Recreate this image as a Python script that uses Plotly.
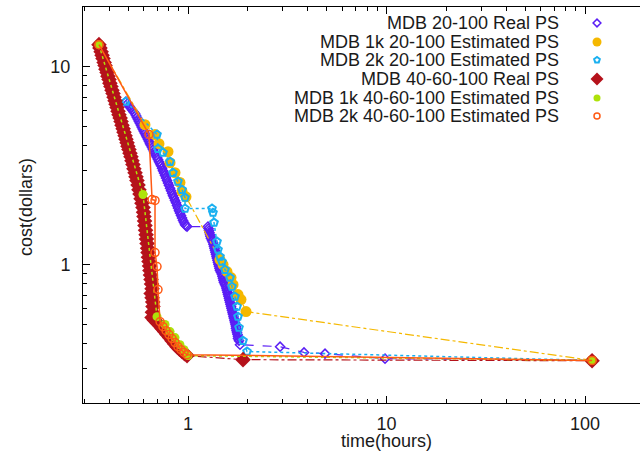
import plotly.graph_objects as go

# ---------------- data (time in hours, cost in dollars) ----------------
real_20_x = [0.487, 0.495, 0.504, 0.513, 0.522, 0.531, 0.541, 0.547, 0.553, 0.560, 0.566, 0.573, 0.580,
             0.586, 0.593, 0.600, 0.607, 0.615, 0.622, 0.629, 0.636, 0.643, 0.651, 0.659, 0.666, 0.674,
             0.682, 0.690, 0.698, 0.706, 0.714, 0.723, 0.731, 0.740, 0.748, 0.757, 0.766, 0.775, 0.784,
             0.793, 0.802, 0.812, 0.821, 0.831, 0.840, 0.850, 0.860, 0.870, 0.880, 0.890, 0.901, 0.911,
             0.922, 0.933, 0.944, 0.955, 0.966, 0.977, 0.989,
             1.261, 1.268, 1.276, 1.283, 1.291, 1.298, 1.306, 1.321, 1.336, 1.344, 1.352, 1.360, 1.368,
             1.376, 1.384, 1.392, 1.400, 1.408, 1.416, 1.424, 1.433, 1.441, 1.449, 1.466, 1.483, 1.492,
             1.501, 1.509, 1.518, 1.536, 1.554, 1.563, 1.572, 1.581, 1.590, 1.600, 1.609, 1.618, 1.628,
             1.637, 1.647, 1.656, 1.666, 1.676, 1.686, 1.695, 1.705, 1.715, 1.725, 1.735, 1.745, 1.745,
             1.755, 1.766, 1.776, 1.786, 1.786, 1.807, 1.828, 2.91, 3.84, 4.90, 9.83, 108.5]
real_20_y = [6.66, 6.50, 6.35, 6.20, 6.06, 5.92, 5.79, 5.66, 5.53, 5.40, 5.28, 5.16, 5.04,
             4.92, 4.81, 4.70, 4.59, 4.48, 4.38, 4.28, 4.18, 4.08, 3.99, 3.90, 3.81, 3.72,
             3.64, 3.55, 3.47, 3.39, 3.31, 3.23, 3.16, 3.07, 2.98, 2.90, 2.82, 2.74, 2.66,
             2.58, 2.51, 2.43, 2.36, 2.29, 2.23, 2.17, 2.11, 2.05, 1.99, 1.93, 1.87, 1.82,
             1.77, 1.72, 1.67, 1.63, 1.59, 1.57, 1.556,
             1.556, 1.52, 1.485, 1.45, 1.417, 1.385, 1.353, 1.32, 1.292, 1.262, 1.233, 1.205, 1.177,
             1.15, 1.123, 1.097, 1.072, 1.048, 1.024, 1.0, 0.977, 0.955, 0.933, 0.911, 0.890, 0.870,
             0.850, 0.830, 0.811, 0.792, 0.774, 0.756, 0.739, 0.722, 0.706, 0.690, 0.674, 0.658, 0.643,
             0.628, 0.614, 0.600, 0.586, 0.572, 0.559, 0.546, 0.534, 0.521, 0.509, 0.497, 0.486, 0.475,
             0.464, 0.453, 0.443, 0.433, 0.423, 0.413, 0.394, 0.385, 0.360, 0.355, 0.335, 0.329, 0.328]

est1k_20_x = [0.356, 0.607, 0.682, 0.714, 0.793, 0.812, 0.860, 0.911, 0.933, 0.977,
              1.449, 1.501, 1.572, 1.647, 1.686, 1.786, 1.849, 1.960, 108.5]
est1k_20_y = [12.91, 5.09, 4.54, 4.08, 3.72, 3.27, 2.91, 2.60, 2.34, 2.20,
              1.060, 1.000, 0.922, 0.860, 0.792, 0.706, 0.666, 0.579, 0.328]

est2k_20_x = [0.487, 0.698, 0.706, 0.748, 0.812, 0.840, 0.890, 0.933, 0.966, 0.966, 1.321, 1.336,
              1.352, 1.400, 1.416, 1.449, 1.483, 1.536, 1.628, 1.666, 1.725, 1.766, 1.786, 1.807,
              1.893, 1.983, 108.5]
est2k_20_y = [6.66, 4.54, 3.85, 3.68, 3.31, 2.91, 2.63, 2.39, 2.18, 1.92, 1.92, 1.83,
              1.63, 1.307, 1.191, 1.098, 1.036, 0.943, 0.860, 0.774, 0.689, 0.614, 0.546, 0.481,
              0.413, 0.364, 0.328]

real_40_x = [0.356, 0.360, 0.365, 0.369, 0.373, 0.378, 0.382, 0.386, 0.391, 0.395, 0.400, 0.404,
             0.409, 0.414, 0.419, 0.424, 0.429, 0.434, 0.439, 0.444, 0.449, 0.455, 0.460, 0.465,
             0.471, 0.476, 0.482, 0.487, 0.493, 0.498, 0.504, 0.510, 0.516, 0.522, 0.528, 0.534,
             0.541, 0.547, 0.553, 0.560, 0.566, 0.573, 0.580, 0.586, 0.593, 0.597, 0.600, 0.604,
             0.607, 0.611, 0.615, 0.618, 0.622, 0.626, 0.629, 0.632, 0.636, 0.640, 0.643, 0.647,
             0.651, 0.655, 0.659, 0.652, 0.659, 0.664, 0.666, 0.662, 0.659, 0.678, 0.698, 0.719,
             0.740, 0.762, 0.784, 0.807, 0.831, 0.855, 0.880, 0.906, 0.933, 0.960, 0.989, 1.893, 108.5]
real_40_y = [12.91, 12.4, 11.90, 11.4, 10.98, 10.5, 10.12, 9.7, 9.33, 8.95, 8.60, 8.25,
             7.93, 7.6, 7.31, 7.0, 6.73, 6.45, 6.21, 5.95, 5.72, 5.5, 5.28, 5.06,
             4.86, 4.66, 4.48, 4.30, 4.13, 3.96, 3.81, 3.65, 3.51, 3.35, 3.20, 3.05,
             2.91, 2.78, 2.66, 2.52, 2.39, 2.27, 2.15, 2.04, 1.94, 1.84, 1.75, 1.66,
             1.574, 1.49, 1.417, 1.345, 1.277, 1.21, 1.150, 1.09, 1.036, 0.985, 0.933, 0.885,
             0.840, 0.797, 0.756, 0.715, 0.681, 0.647, 0.614, 0.575, 0.540, 0.524, 0.509, 0.492,
             0.475, 0.459, 0.443, 0.428, 0.413, 0.398, 0.385, 0.374, 0.364, 0.355, 0.347, 0.331, 0.327]

est1k_40_x = [0.356, 0.593, 0.698, 0.766, 0.812, 0.860, 0.911, 0.955, 1.000, 108.5]
est1k_40_y = [12.91, 2.26, 0.546, 0.498, 0.459, 0.428, 0.394, 0.372, 0.347, 0.328]

est2k_40_x = [0.356, 0.636, 0.659, 0.682, 0.682, 0.698, 0.706, 0.723, 0.748, 0.775, 0.802,
              0.831, 0.860, 0.890, 0.922, 0.955, 0.989, 108.5]
est2k_40_y = [12.91, 4.54, 2.13, 2.11, 1.150, 0.977, 0.748, 0.515, 0.486, 0.464, 0.443,
              0.423, 0.404, 0.385, 0.372, 0.360, 0.351, 0.328]

series_names = ["MDB 20-100 Real PS", "MDB 1k 20-100 Estimated PS", "MDB 2k 20-100 Estimated PS",
                "MDB 40-60-100 Real PS", "MDB 1k 40-60-100 Estimated PS", "MDB 2k 40-60-100 Estimated PS"]

x_tick_vals = [1, 10, 100]
x_tick_text = ["1", "10", "100"]
y_tick_vals = [1, 10]
y_tick_text = ["1", "10"]

# ---------------- styles ----------------
styles = [
    dict(color="#5a1ef5", symbol="diamond-open", size=7, mlw=1.5, dash="dash", lw=1.2),
    dict(color="#f5b800", symbol="circle", size=11, mlw=0, dash="dashdot", lw=1.2),
    dict(color="#1ab0f0", symbol="pentagon-open", size=8, mlw=2, dash="dot", lw=1.5),
    dict(color="#b5121b", symbol="diamond", size=12, mlw=0, dash="dashdot", lw=1.2),
    dict(color="#aee20a", symbol="circle", size=9, mlw=0, dash="dot", lw=1.5),
    dict(color="#ff5a14", symbol="circle-open", size=8, mlw=1.5, dash="solid", lw=1.5),
]
data = [(real_20_x, real_20_y), (est1k_20_x, est1k_20_y), (est2k_20_x, est2k_20_y),
        (real_40_x, real_40_y), (est1k_40_x, est1k_40_y), (est2k_40_x, est2k_40_y)]

fig = go.Figure()
for (xs, ys), st, name in zip(data, styles, series_names):
    fig.add_trace(go.Scatter(
        x=xs, y=ys, mode="lines+markers", name=name, showlegend=False,
        line=dict(color=st["color"], dash=st["dash"], width=st["lw"]),
        marker=dict(symbol=st["symbol"], size=st["size"], color=st["color"],
                    line=dict(color=st["color"], width=st["mlw"])),
    ))

# manual gnuplot-style key (text right-aligned, symbol to the right)
key_rows_y = [0.9596, 0.9116, 0.8662, 0.8182, 0.7702, 0.7247]
for st, name, ky in zip(styles, series_names, key_rows_y):
    fig.add_trace(go.Scatter(
        x=[0.9228], y=[ky], xaxis="x2", yaxis="y2", mode="markers", showlegend=False,
        marker=dict(symbol=st["symbol"], size=max(st["size"] - 2, 6), color=st["color"],
                    line=dict(color=st["color"], width=st["mlw"])),
        hoverinfo="skip",
    ))
    fig.add_annotation(x=0.8564, y=ky, xref="paper", yref="paper", text=name, showarrow=False,
                       xanchor="right", yanchor="middle", borderpad=0,
                       font=dict(size=18, color="#1a1a1a"))

font_family = "Liberation Sans, Arial, sans-serif"
fig.update_layout(
    width=640, height=452,
    margin=dict(l=83, r=0, t=7, b=49, autoexpand=False),
    paper_bgcolor="white", plot_bgcolor="white",
    font=dict(family=font_family, size=18, color="#1a1a1a"),
    showlegend=False,
    xaxis=dict(type="log", range=[-0.529, 2.277], showgrid=False, zeroline=False,
               showline=True, linecolor="black", linewidth=1, mirror="ticks",
               ticks="inside", ticklen=7, tickcolor="black",
               tickvals=x_tick_vals, ticktext=x_tick_text, ticklabelstandoff=4,
               minor=dict(ticks="inside", ticklen=4, tickcolor="black", dtick="D1")),
    yaxis=dict(type="log", range=[-0.699, 1.301], showgrid=False, zeroline=False,
               showline=True, linecolor="black", linewidth=1,
               ticks="inside", ticklen=7, tickcolor="black",
               tickvals=y_tick_vals, ticktext=y_tick_text, ticklabelstandoff=8,
               minor=dict(ticks="inside", ticklen=4, tickcolor="black", dtick="D1")),
    xaxis2=dict(overlaying="x", range=[0, 1], visible=False),
    yaxis2=dict(overlaying="y", range=[0, 1], visible=False),
)
fig.add_annotation(x=0.544, y=-0.095, xref="paper", yref="paper", text="time(hours)",
                   showarrow=False, xanchor="center", yanchor="middle", borderpad=0,
                   font=dict(size=18))
fig.add_annotation(x=-0.1023, y=0.495, xref="paper", yref="paper", text="cost(dollars)",
                   showarrow=False, textangle=-90, xanchor="center", yanchor="middle",
                   font=dict(size=18))

fig.write_html("out.html", config={"displayModeBar": False},
               post_script="document.body.style.margin='0';document.body.style.padding='0';")
